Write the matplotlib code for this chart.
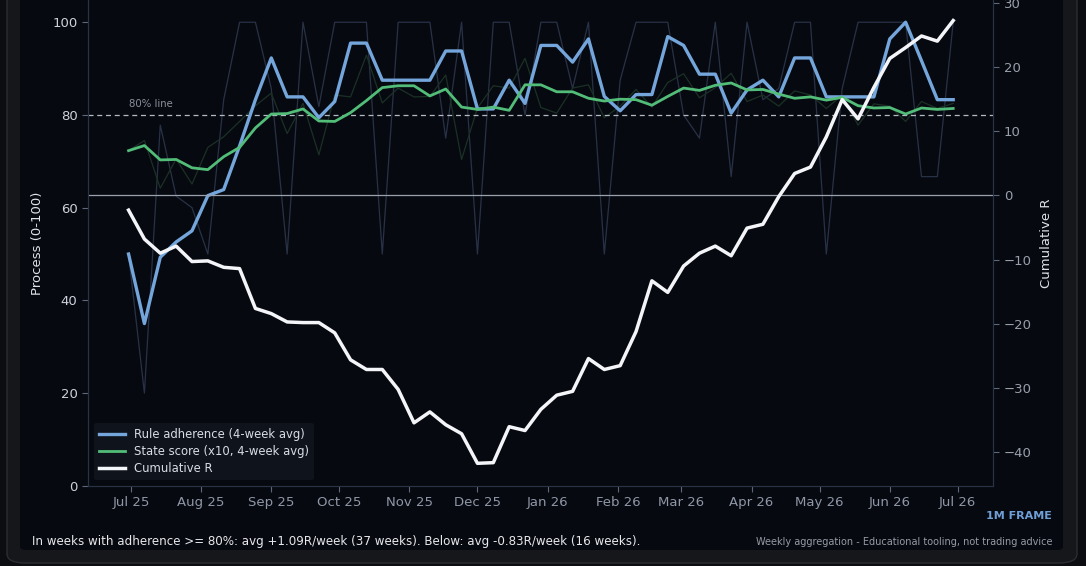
import matplotlib
matplotlib.use("Agg")
import matplotlib.pyplot as plt
import matplotlib.dates as mdates
from matplotlib.patches import FancyBboxPatch
import pandas as pd

# ---- data (weekly, Mondays) ----
week_start = "2025-06-30"
n_weeks = 53

adherence_raw = [50, 20, 77.8, 62.5, 60, 50, 83.3, 100, 100, 85.7, 50, 100, 81.8, 100,
                 100, 100, 50, 100, 100, 100, 75, 100, 50, 100, 100, 80, 100, 100, 85.7,
                 100, 50, 87.5, 100, 100, 100, 80, 75, 100, 66.7, 100, 83.3, 85.7, 100,
                 100, 50, 85.7, 100, 100, 100, 100, 66.7, 66.7, 100]

adherence_avg = [50.0, 35.0, 49.3, 52.6, 55.0, 62.6, 63.9, 73.3, 83.3, 92.3, 83.9, 83.9,
                 79.4, 82.9, 95.5, 95.5, 87.5, 87.5, 87.5, 87.5, 93.8, 93.8, 81.3, 81.3,
                 87.5, 82.5, 95.0, 95.0, 91.4, 96.4, 84.0, 80.9, 84.4, 84.4, 96.9, 95.0,
                 88.8, 88.8, 80.4, 85.4, 87.5, 83.9, 92.3, 92.3, 83.9, 83.9, 83.9, 83.9,
                 96.4, 100.0, 91.7, 83.3, 83.3]

state_raw = [72.3, 74.5, 64.2, 70.5, 65.1, 73.0, 75.3, 78.6, 82.0, 84.7, 76.0, 82.5, 71.4,
             84.3, 83.9, 92.9, 82.6, 85.8, 83.9, 84.0, 88.6, 70.4, 81.5, 86.3, 85.8, 92.2,
             81.6, 80.4, 85.8, 86.5, 79.4, 81.9, 85.5, 81.7, 87.0, 88.9, 83.7, 85.9, 89.0,
             82.9, 84.3, 81.9, 85.2, 84.3, 81.4, 84.3, 77.8, 82.4, 81.9, 78.6, 82.9, 81.4,
             82.5]

state_avg = [72.3, 73.4, 70.3, 70.4, 68.6, 68.2, 71.0, 73.0, 77.2, 80.2, 80.3, 81.3, 78.7,
             78.6, 80.5, 83.1, 85.9, 86.3, 86.3, 84.1, 85.6, 81.7, 81.2, 81.7, 81.0, 86.5,
             86.5, 85.0, 85.0, 83.6, 83.0, 83.4, 83.3, 82.1, 84.0, 85.8, 85.3, 86.4, 86.9,
             85.4, 85.5, 84.5, 83.6, 83.9, 83.2, 83.8, 82.0, 81.5, 81.6, 80.2, 81.5, 81.2,
             81.4]

cum_r = [-2.3, -6.8, -9.0, -7.9, -10.3, -10.2, -11.2, -11.4, -17.6, -18.4, -19.7, -19.8,
         -19.8, -21.4, -25.6, -27.1, -27.1, -30.2, -35.4, -33.7, -35.7, -37.1, -41.7, -41.6,
         -36.0, -36.6, -33.3, -31.1, -30.5, -25.4, -27.1, -26.5, -21.2, -13.3, -15.1, -11.0,
         -9.0, -7.9, -9.4, -5.1, -4.5, -0.2, 3.4, 4.4, 9.1, 14.9, 11.9, 16.8, 21.3, 23.0,
         24.8, 24.0, 27.2]

threshold = 80
footer_left = ("In weeks with adherence >= 80%: avg +1.09R/week (37 weeks). "
               "Below: avg -0.83R/week (16 weeks).")
footer_right = "Weekly aggregation - Educational tooling, not trading advice"
frame_label = "1M FRAME"

dates = pd.date_range(week_start, periods=n_weeks, freq="7D")

# ---- style ----
W, H, DPI = 1086, 566, 100
BG_OUT = "#0c0d11"
CARD = "#15171b"
CARD_EDGE = "#2a2d33"
PANEL = "#070910"
SPINE = "#2a3246"
BLUE = "#74a6dc"
GREEN = "#52bd78"
WHITE = "#f3f5f8"

fig = plt.figure(figsize=(W / DPI, H / DPI), dpi=DPI, facecolor=BG_OUT)


def px_box(x0, y0, x1, y1, fc, ec, r, lw=1.0, z=-10):
    # y measured from top in pixels
    b = FancyBboxPatch((x0 / W, 1 - y1 / H), (x1 - x0) / W, (y1 - y0) / H,
                       boxstyle=f"round,pad=0,rounding_size={r / W}",
                       transform=fig.transFigure, facecolor=fc, edgecolor=ec,
                       linewidth=lw, zorder=z)
    fig.patches.append(b)


px_box(7, -40, 1077, 563, CARD, CARD_EDGE, 18, lw=1.0, z=-10)
px_box(20, -40, 1063, 550, PANEL, "none", 6, lw=0, z=-9)

ax = fig.add_axes([88 / W, 1 - 485.8 / H, (993.3 - 88) / W, 485.8 / H])
ax.set_zorder(1)
ax.set_facecolor(PANEL)

ax.plot(dates, adherence_raw, color="#283246", lw=0.9, zorder=2)
ax.plot(dates, state_raw, color="#1b3125", lw=0.9, zorder=2)
l1, = ax.plot(dates, adherence_avg, color=BLUE, lw=2.4, zorder=4,
              label="Rule adherence (4-week avg)")
l2, = ax.plot(dates, state_avg, color=GREEN, lw=2.0, zorder=4,
              label="State score (x10, 4-week avg)")
ax.axhline(threshold, color="#b4bac4", lw=0.9, ls=(0, (4, 3)), zorder=3)
ax.text(dates[0], threshold + 1.3, "80% line", color="#8a909a", fontsize=7.3,
        ha="left", va="bottom")
ax.set_ylim(0, 104.8)
ax.set_yticks([0, 20, 40, 60, 80, 100])
ax.set_ylabel("Process (0-100)", color="#dfe2e8", fontsize=9.5, labelpad=6)

ax2 = ax.twinx()
ax2.set_zorder(2)
ax2.patch.set_visible(False)
ax2.axhline(0, color="#9aa1ae", lw=0.9, zorder=1)
l3, = ax2.plot(dates, cum_r, color=WHITE, lw=2.5, zorder=5, label="Cumulative R")
ax2.set_ylim(-45.2, 30.4)
ax2.set_yticks([-40, -30, -20, -10, 0, 10, 20, 30])
ax2.set_ylabel("Cumulative R", color="#dfe2e8", fontsize=9.5, labelpad=6)

ax.xaxis.set_major_locator(mdates.MonthLocator())
ax.xaxis.set_major_formatter(mdates.DateFormatter("%b %y"))
ax.set_xlim(dates[0] - pd.Timedelta(days=17.9), dates[-1] + pd.Timedelta(days=17.7))

for a in (ax, ax2):
    for s in a.spines.values():
        s.set_color(SPINE)
    a.spines["top"].set_visible(False)
ax.tick_params(axis="x", colors="#5d667a", labelcolor="#8f97a6", labelsize=9.5, length=4)
ax.tick_params(axis="y", colors="#5d667a", labelcolor="#cdd2da", labelsize=9.5, length=4)
ax2.tick_params(axis="y", colors="#5d667a", labelcolor="#99a0ac", labelsize=9.5, length=4)

leg = ax2.legend(handles=[l1, l2, l3], loc="lower left", fontsize=8.4,
                 facecolor="#10141d", edgecolor="none", framealpha=0.95,
                 labelcolor="#d8dce3", borderpad=0.45, labelspacing=0.32,
                 handlelength=2.2, handletextpad=0.75)
leg.get_frame().set_boxstyle("round,pad=0,rounding_size=0.2")

fig.text(32 / W, 1 - 541 / H, footer_left, color="#e6e8ec", fontsize=8.55,
         ha="left", va="center")
fig.text(1052 / W, 1 - 542 / H, footer_right, color="#959ba6", fontsize=7,
         ha="right", va="center")
fig.text(1052 / W, 1 - 516 / H, frame_label, color="#6f9fd6", fontsize=8,
         fontweight="bold", ha="right", va="center")

fig.savefig("out.png", dpi=DPI, facecolor=BG_OUT)
